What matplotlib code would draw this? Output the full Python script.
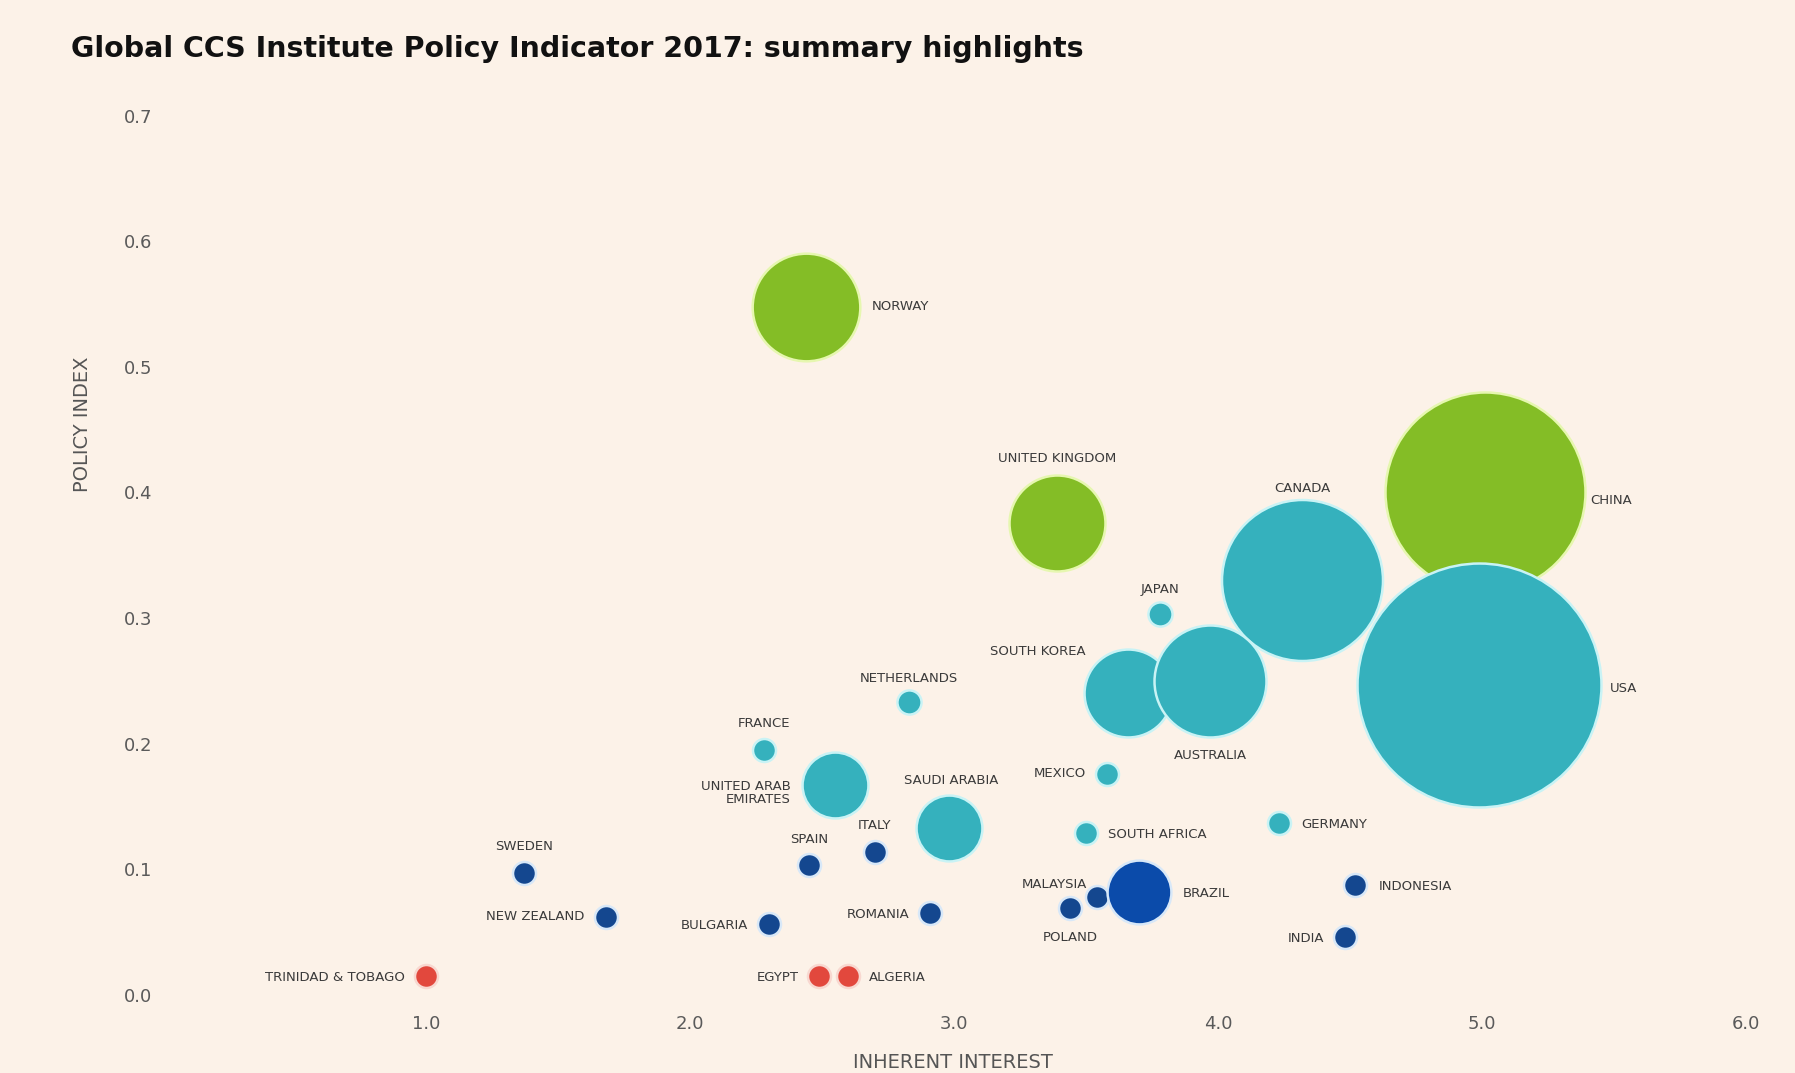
import matplotlib
matplotlib.use("Agg")
import matplotlib.pyplot as plt

# ---------------- data ----------------
countries = ["NORWAY", "UNITED KINGDOM", "CHINA", "USA", "CANADA", "JAPAN",
             "SOUTH KOREA", "AUSTRALIA", "NETHERLANDS", "FRANCE",
             "UNITED ARAB\nEMIRATES", "SAUDI ARABIA", "MEXICO", "SOUTH AFRICA",
             "GERMANY", "SWEDEN", "NEW ZEALAND", "SPAIN", "ITALY", "BULGARIA",
             "ROMANIA", "POLAND", "MALAYSIA", "BRAZIL", "INDONESIA", "INDIA",
             "TRINIDAD & TOBAGO", "EGYPT", "ALGERIA"]
inherent_interest = [2.44, 3.39, 5.01, 4.99, 4.32, 3.78,
                     3.66, 3.97, 2.83, 2.28,
                     2.55, 2.98, 3.58, 3.50,
                     4.23, 1.37, 1.68, 2.45, 2.70, 2.30,
                     2.91, 3.44, 3.54, 3.70, 4.52, 4.48,
                     1.00, 2.49, 2.60]
policy_index = [0.548, 0.376, 0.400, 0.247, 0.330, 0.303,
                0.240, 0.250, 0.233, 0.195,
                0.167, 0.133, 0.176, 0.129,
                0.137, 0.097, 0.062, 0.103, 0.114, 0.056,
                0.065, 0.069, 0.078, 0.082, 0.0875, 0.046,
                0.015, 0.015, 0.015]
bubble_weight = [21.9, 17.4, 75.6, 112.5, 49.0, 1.1,
                 14.6, 23.7, 1.1, 1.0,
                 8.2, 8.2, 1.0, 1.0,
                 1.0, 1.0, 1.0, 1.0, 1.0, 1.0,
                 1.0, 1.0, 1.0, 7.7, 1.0, 1.0,
                 1.0, 1.0, 1.0]
group = ["green", "green", "green", "teal", "teal", "teal",
         "teal", "teal", "teal", "teal",
         "teal", "teal", "teal", "teal",
         "teal", "navy", "navy", "navy", "navy", "navy",
         "navy", "navy", "navy", "blue", "navy", "navy",
         "red", "red", "red"]
x_ticks = [1.0, 2.0, 3.0, 4.0, 5.0, 6.0]
y_ticks = [0.0, 0.1, 0.2, 0.3, 0.4, 0.5, 0.6, 0.7]

# ---------------- styling ----------------
bg = "#FCF2E8"
fill = {"green": "#84BD26", "teal": "#35B1BD", "navy": "#14478F",
        "blue": "#0B4BAA", "red": "#E2483D"}
halo = {"green": "#E6F7B0", "teal": "#C9F3F5", "navy": "#D8E8F8",
        "blue": "#D8E8F8", "red": "#F8D8D0"}

# label offsets (points) and alignment
label_pos = {
    "NORWAY": (47, 0, "left"),
    "UNITED KINGDOM": (0, 46, "center"),
    "CHINA": (76, -6, "left"),
    "USA": (94, -3, "left"),
    "CANADA": (0, 66, "center"),
    "JAPAN": (0, 18, "center"),
    "SOUTH KOREA": (-31, 30, "right"),
    "AUSTRALIA": (0, -54, "center"),
    "NETHERLANDS": (0, 17, "center"),
    "FRANCE": (0, 19, "center"),
    "UNITED ARAB\nEMIRATES": (-32, -6, "right"),
    "SAUDI ARABIA": (2, 34, "center"),
    "MEXICO": (-15, 0, "right"),
    "SOUTH AFRICA": (16, -1, "left"),
    "GERMANY": (16, -1, "left"),
    "SWEDEN": (0, 19, "center"),
    "NEW ZEALAND": (-15, 0, "right"),
    "SPAIN": (0, 19, "center"),
    "ITALY": (0, 19, "center"),
    "BULGARIA": (-15, -1, "right"),
    "ROMANIA": (-15, -1, "right"),
    "POLAND": (0, -21, "center"),
    "MALAYSIA": (-7, 9, "right"),
    "BRAZIL": (32, -1, "left"),
    "INDONESIA": (17, -1, "left"),
    "INDIA": (-15, -1, "right"),
    "TRINIDAD & TOBAGO": (-15, -1, "right"),
    "EGYPT": (-15, -1, "right"),
    "ALGERIA": (15, -1, "left"),
}

W, H = 1795, 1073
fig = plt.figure(figsize=(W / 100, H / 100), dpi=100)
fig.patch.set_facecolor(bg)
ax = fig.add_axes([0.10496, 0.0670, 0.88245, 0.8486])
ax.set_facecolor(bg)
ax.set_xlim(0.1, 6.1)
ax.set_ylim(-0.005, 0.72)

base = (2 * 11.5 * 72 / 100) ** 2
for name, x, y, w, g in zip(countries, inherent_interest, policy_index,
                            bubble_weight, group):
    ax.scatter([x], [y], s=w * base, color=fill[g], edgecolors=halo[g],
               linewidths=1.8, clip_on=False, zorder=2)
    dx, dy, ha = label_pos[name]
    ax.annotate(name, (x, y), xytext=(dx, dy), textcoords="offset points",
                ha=ha, va="center", fontsize=9.5, color="#3a3a3a",
                linespacing=1.0, zorder=3)

ax.set_xticks(x_ticks)
ax.set_xticklabels([f"{v:.1f}" for v in x_ticks])
ax.set_yticks(y_ticks)
ax.set_yticklabels([f"{v:.1f}" for v in y_ticks])
ax.tick_params(axis="x", length=0, pad=10, labelsize=13, labelcolor="#5a5a5a")
ax.tick_params(axis="y", length=0, pad=26, labelsize=13, labelcolor="#5a5a5a")
for s in ax.spines.values():
    s.set_visible(False)

fig.text(71 / W, 1 - 49 / H,
         "Global CCS Institute Policy Indicator 2017: summary highlights",
         ha="left", va="center", fontsize=20.5, fontweight="heavy", color="#111111")
fig.text(82 / W, 1 - 424 / H, "POLICY INDEX", rotation=90, ha="center",
         va="center", fontsize=14, color="#555555")
fig.text(953 / W, 1 - 1062 / H, "INHERENT INTEREST", ha="center",
         va="center", fontsize=14, color="#555555")

fig.savefig("out.png", dpi=100, facecolor=bg)
